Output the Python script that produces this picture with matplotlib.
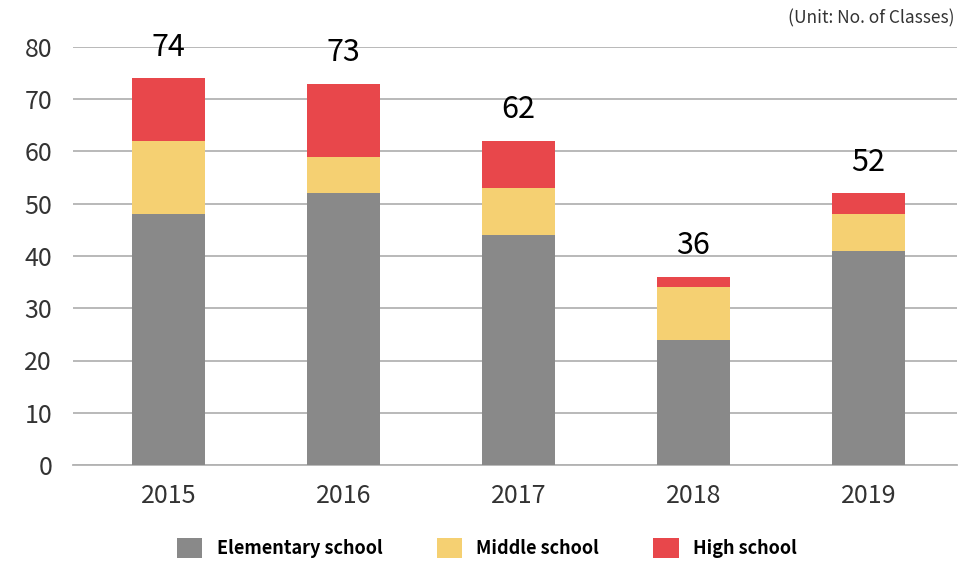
import matplotlib
matplotlib.use("Agg")
import matplotlib.pyplot as plt
import numpy as np

years = ["2015", "2016", "2017", "2018", "2019"]
elementary = [48, 52, 44, 24, 41]
middle = [14, 7, 9, 10, 7]
high = [12, 14, 9, 2, 4]
totals = [74, 73, 62, 36, 52]
series_names = ["Elementary school", "Middle school", "High school"]
colors = ["#898989", "#F5D072", "#E8474B"]

plt.rcParams['font.family'] = ['Noto Sans CJK KR', 'DejaVu Sans']

fig = plt.figure(figsize=(9.6, 5.66), dpi=100)
ax = fig.add_axes([73/960, 1-465/566, 884/960, 418/566])

x = np.arange(len(years))
w = 0.417
b1 = ax.bar(x, elementary, w, color=colors[0], label=series_names[0], zorder=3)
b2 = ax.bar(x, middle, w, bottom=elementary, color=colors[1], label=series_names[1], zorder=3)
bottom2 = np.array(elementary) + np.array(middle)
b3 = ax.bar(x, high, w, bottom=bottom2, color=colors[2], label=series_names[2], zorder=3)

tops = bottom2 + np.array(high)
for xi, t, lab in zip(x, tops, totals):
    ax.text(xi, t + 3.0, str(lab), ha='center', va='bottom', fontsize=22, color='black')

ax.set_ylim(0, 80)
ax.set_xlim(-0.546, 4.506)
ax.set_yticks(range(0, 81, 10))
ax.set_xticks(x)
ax.set_xticklabels(years)
ax.yaxis.grid(True, color='#b3b3b3', linewidth=1.3, zorder=0)
ax.set_axisbelow(True)
for s in ['top', 'right', 'left']:
    ax.spines[s].set_visible(False)
ax.spines['bottom'].set_color('#b3b3b3')
ax.spines['bottom'].set_linewidth(1.3)
ax.tick_params(axis='both', length=0, labelsize=18, colors='#333333')
ax.tick_params(axis='y', pad=15)
ax.tick_params(axis='x', pad=13)
for t in ax.get_yticklabels():
    t.set_ha('right')
    t.set_fontweight('light')
for t in ax.get_xticklabels():
    t.set_fontweight('light')

fig.text(955/960, 1-18/566, "(Unit: No. of Classes)", ha='right', va='center', fontsize=12.5,
         color='#333333', fontweight='light')

leg = fig.legend(handles=[b1, b2, b3], labels=series_names, loc='center', ncol=3,
                 bbox_to_anchor=(487/960, 1-548/566), frameon=False, fontsize=13,
                 handlelength=1.4, handleheight=1.4, columnspacing=3.0, handletextpad=0.8)
for t in leg.get_texts():
    t.set_fontweight('bold')

fig.savefig("out.png", dpi=100)
